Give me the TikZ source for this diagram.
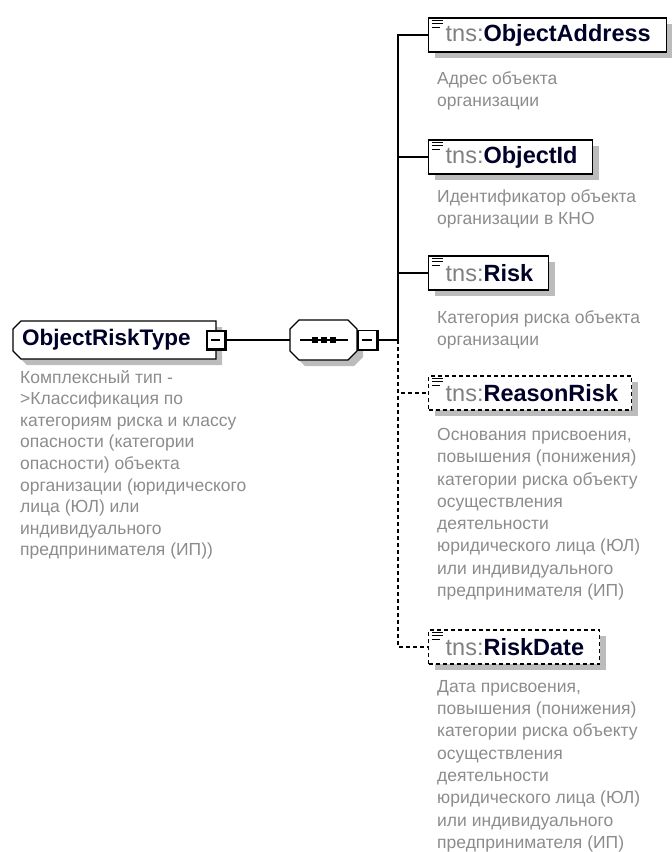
\documentclass[tikz,border=0pt]{standalone}
\usepackage{fontspec}
\setmainfont{Liberation Sans}
\usetikzlibrary{shadows}
\definecolor{nm}{RGB}{0,0,40}
\definecolor{pf}{RGB}{128,128,128}
\definecolor{ds}{RGB}{140,140,140}
\definecolor{sh}{RGB}{188,188,188}
\newcommand{\pfx}[1]{\textcolor{pf}{#1}}
\begin{document}
\begin{tikzpicture}[x=1pt,y=-1pt,
  shad/.style={drop shadow={shadow xshift=6pt,shadow yshift=-6pt,fill=sh,opacity=1}},
  elem/.style={draw=black, line width=1.4pt, fill=white, shad, minimum height=34pt,
    anchor=west, inner xsep=4pt, inner ysep=0pt, align=left, text=nm,
    font=\fontsize{23.5}{27}\selectfont},
  optelem/.style={elem, dash pattern=on 4pt off 3pt},
  desc/.style={anchor=north west, inner sep=0pt, align=left, text=ds,
    font=\fontsize{17.5}{22.3}\selectfont},
  wire/.style={line width=1.2pt},
  dwire/.style={wire, dash pattern=on 4pt off 3pt},
  minusbox/.style={draw=black, line width=1.2pt, fill=white, minimum size=18pt, inner sep=0pt,
    path picture={\draw[line width=1.2pt] ([xshift=4pt]path picture bounding box.west) -- ([xshift=-5pt]path picture bounding box.east);}},
  icon/.style={line width=1.3pt}
]
\useasboundingbox (0,0) rectangle (672,852);

% root complex type
\path[draw=black, line width=1.4pt, fill=white, shad]
  (21,321) -- (216,321) -- (216,359) -- (21,359) -- (13,351) -- (13,329) -- cycle;
\node[anchor=west, inner sep=0pt, text=nm, font=\fontsize{22.5}{26}\selectfont\bfseries] (root) at (22,340) {ObjectRiskType};
\node[minusbox] (rm) at (216,340) {};
\draw[line width=2.6pt] (rm.north east) -- (rm.south east) -- (rm.south west);
\node[desc, font=\fontsize{17.5}{21.6}\selectfont] (rootd) at (20,370) {Комплексный тип -\\>Классификация по\\категориям риска и классу\\опасности (категории\\опасности) объекта\\организации (юридического\\лица (ЮЛ) или\\индивидуального\\предпринимателя (ИП))};

% sequence compositor
\path[draw=black, line width=1.4pt, fill=white, shad]
  (299,320) -- (348,320) -- (357,329) -- (357,351) -- (348,360) -- (299,360) -- (290,351) -- (290,329) -- cycle;
\node[minimum width=67pt, minimum height=40pt, inner sep=0pt] (comp) at (323.5,340) {};
\draw[wire] (300,340) -- (348,340);
\fill (312,337) rectangle ++(6,6);
\fill (321,337) rectangle ++(6,6);
\fill (330,337) rectangle ++(6,6);
\node[minusbox, minimum size=19pt] (cm) at (367.5,340) {};
\draw[line width=2.6pt] (cm.north east) -- (cm.south east) -- (cm.south west);

\coordinate (tr) at (398,340);
\draw[wire] (rm.east) -- (comp.west);
\draw[wire] (cm.east) -- (tr);

% children
\node[elem, text width=230pt] (c1) at (428,35) {\hspace*{13pt}\pfx{tns:}\textbf{ObjectAddress}};
\node[elem, text width=156pt] (c2) at (428,157) {\hspace*{13pt}\pfx{tns:}\textbf{ObjectId}};
\node[elem, text width=112pt] (c3) at (428,273) {\hspace*{13pt}\pfx{tns:}\textbf{Risk}};
\node[optelem, text width=195pt] (c4) at (428,393) {\hspace*{13pt}\pfx{tns:}\textbf{ReasonRisk}};
\node[optelem, text width=163pt] (c5) at (428,647) {\hspace*{13pt}\pfx{tns:}\textbf{RiskDate}};

\foreach \n in {c1,c2,c3,c4,c5}{
  \draw[icon, shift={(\n.north west)}] (4,3) -- (15,3) (4,6.5) -- (15,6.5) (4,10) -- (12,10);
}

\draw[wire] (tr) |- (c1.west);
\draw[wire] (tr) |- (c2.west);
\draw[wire] (tr) |- (c3.west);
\draw[dwire] (tr) |- (c4.west);
\draw[dwire] (tr) |- (c5.west);

% descriptions
\node[desc] (d1) at (437,71) {Адрес объекта\\организации};
\node[desc] (d2) at (437,189) {Идентификатор объекта\\организации в КНО};
\node[desc] (d3) at (437,310) {Категория риска объекта\\организации};
\node[desc] (d4) at (437,428) {Основания присвоения,\\повышения (понижения)\\категории риска объекту\\осуществления\\деятельности\\юридического лица (ЮЛ)\\или индивидуального\\предпринимателя (ИП)};
\node[desc] (d5) at (437,680) {Дата присвоения,\\повышения (понижения)\\категории риска объекту\\осуществления\\деятельности\\юридического лица (ЮЛ)\\или индивидуального\\предпринимателя (ИП)};
\end{tikzpicture}
\end{document}
